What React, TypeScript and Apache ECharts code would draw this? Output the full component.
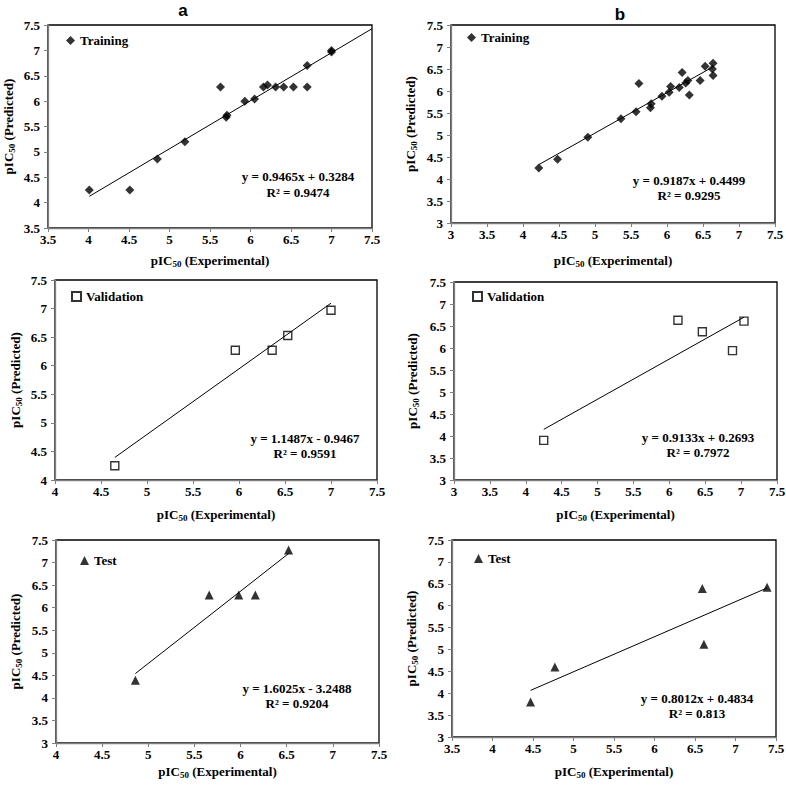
import React, { useEffect, useRef } from "react";
import * as echarts from "echarts";

// ---------- data ----------
const trainAX = [4.01, 4.51, 4.85, 5.19, 5.63, 5.70, 5.71, 5.93, 6.05, 6.16, 6.21, 6.31, 6.41, 6.53, 6.70, 6.70, 7.00, 7.00];
const trainAY = [4.25, 4.25, 4.86, 5.20, 6.28, 5.68, 5.72, 6.00, 6.04, 6.28, 6.32, 6.28, 6.28, 6.28, 6.28, 6.70, 6.97, 7.00];
const trainBX = [4.22, 4.48, 4.90, 5.36, 5.57, 5.61, 5.77, 5.78, 5.93, 6.03, 6.05, 6.17, 6.21, 6.26, 6.29, 6.31, 6.46, 6.53, 6.63, 6.64, 6.64];
const trainBY = [4.25, 4.45, 4.95, 5.37, 5.53, 6.17, 5.62, 5.71, 5.88, 5.97, 6.10, 6.08, 6.42, 6.18, 6.24, 5.91, 6.24, 6.56, 6.50, 6.63, 6.35];
const validAX = [4.65, 5.96, 6.36, 6.53, 7.00];
const validAY = [4.25, 6.27, 6.27, 6.53, 6.97];
const validBX = [4.25, 6.12, 6.46, 6.88, 7.04];
const validBY = [3.90, 6.63, 6.37, 5.94, 6.61];
const testAX = [4.86, 5.66, 5.98, 6.16, 6.52];
const testAY = [4.39, 6.28, 6.28, 6.28, 7.28];
const testBX = [4.47, 4.77, 6.59, 6.61, 7.39];
const testBY = [3.80, 4.60, 6.39, 5.12, 6.42];

// regression coefficients [slope, intercept] and R²
const slopes = [0.9465, 0.9187, 1.1487, 0.9133, 1.6025, 0.8012];
const intercepts = [0.3284, 0.4499, -0.9467, 0.2693, -3.2488, 0.4834];
const equations = [
  "y = 0.9465x + 0.3284",
  "y = 0.9187x + 0.4499",
  "y = 1.1487x - 0.9467",
  "y = 0.9133x + 0.2693",
  "y = 1.6025x - 3.2488",
  "y = 0.8012x + 0.4834",
];
const r2Labels = ["R² = 0.9474", "R² = 0.9295", "R² = 0.9591", "R² = 0.7972", "R² = 0.9204", "R² = 0.813"];
// trendline forward extension (panel a training extends to 7.5)
const trendEnds = [7.5, null, null, null, null, null];

const seriesNames = ["Training", "Training", "Validation", "Validation", "Test", "Test"];
const xMins = [3.5, 3, 4, 3, 4, 3.5];
const yMins = [3.5, 3, 4, 3, 3, 3];
const axisMax = 7.5;
const tickStep = 0.5;
const panelTitles = ["a", "b"];

// ---------- layout ----------
const FONT = '"Liberation Serif", "Times New Roman", serif';
const FS = 13;
const grids = [
  { left: 48, top: 25, width: 324, height: 203 },
  { left: 451, top: 25, width: 324, height: 198 },
  { left: 55, top: 280, width: 322, height: 200 },
  { left: 454, top: 282, width: 323, height: 198 },
  { left: 56, top: 540, width: 323, height: 203 },
  { left: 452, top: 540, width: 324, height: 197 },
];
const xNameGaps = [25, 30, 27, 27, 21, 27];
const yNameGaps = [32, 33, 32, 34, 33, 33];
const legendPos = [
  { left: 66, top: 34 },
  { left: 467, top: 31 },
  { left: 71, top: 290 },
  { left: 472, top: 290 },
  { left: 80, top: 554 },
  { left: 474, top: 552 },
];
const eqPos = [
  [298, 176, 192],
  [689, 180, 195],
  [305, 438, 453],
  [698, 437, 452],
  [297, 688, 703],
  [697, 698, 713],
];

const xs = [trainAX, trainBX, validAX, validBX, testAX, testBX];
const ys = [trainAY, trainBY, validAY, validBY, testAY, testBY];

const nameRich = {
  m: { fontSize: FS, fontWeight: "bold", fontFamily: FONT, color: "#000", lineHeight: 15 },
  s: { fontSize: 9, fontWeight: "bold", fontFamily: FONT, color: "#000", lineHeight: 9, verticalAlign: "bottom" },
};

function symbolFor(i: number) {
  if (i < 2) return { symbol: "diamond", symbolSize: 9, itemStyle: { color: "#000" } };
  if (i < 4)
    return {
      symbol: "rect",
      symbolSize: 8,
      itemStyle: { color: "rgba(255,255,255,0)", borderColor: "#000", borderWidth: 1.4 },
    };
  return { symbol: "triangle", symbolSize: 9, itemStyle: { color: "#000" } };
}

function textStyle(text: string, x: number, y: number) {
  return {
    type: "text",
    x,
    y,
    style: {
      text,
      fill: "#000",
      fontFamily: FONT,
      fontWeight: "bold",
      fontSize: FS,
      align: "center",
      verticalAlign: "middle",
    },
  };
}

function buildOption() {
  const xAxis: any[] = [];
  const yAxis: any[] = [];
  const series: any[] = [];
  const legend: any[] = [];
  const graphic: any[] = [];

  grids.forEach((g, i) => {
    const common = {
      gridIndex: i,
      type: "value",
      max: axisMax,
      interval: tickStep,
      splitLine: { show: false },
      axisLine: { show: true, onZero: false, lineStyle: { color: "#7f7f7f", width: 1.3 } },
      axisTick: { show: true, inside: false, length: 4, lineStyle: { color: "#7f7f7f", width: 1 } },
      nameLocation: "middle",
      nameMoveOverlap: false,
    };
    const labelStyle = {
      color: "#000",
      fontFamily: FONT,
      fontWeight: "bold",
      fontSize: FS,
      showMinLabel: true,
      showMaxLabel: true,
    };
    xAxis.push({
      ...common,
      min: xMins[i],
      name: "{m|pIC}{s|50}{m| (Experimental)}",
      nameGap: xNameGaps[i],
      nameTextStyle: { rich: nameRich },
      axisLabel: { ...labelStyle, margin: 5 },
    });
    yAxis.push({
      ...common,
      min: yMins[i],
      name: "{m|pIC}{s|50}{m| (Predicted)}",
      nameRotate: 90,
      nameGap: yNameGaps[i],
      nameTextStyle: { rich: nameRich },
      axisLabel: { ...labelStyle, margin: 8 },
    });

    const pts = xs[i].map((x, k) => [x, ys[i][k]]);
    series.push({
      name: seriesNames[i],
      type: "scatter",
      xAxisIndex: i,
      yAxisIndex: i,
      data: pts,
      z: 3,
      ...symbolFor(i),
    });

    const x0 = Math.min(...xs[i]);
    const x1 = trendEnds[i] ?? Math.max(...xs[i]);
    series.push({
      name: "Linear (" + seriesNames[i] + ")",
      type: "line",
      xAxisIndex: i,
      yAxisIndex: i,
      data: [
        [x0, slopes[i] * x0 + intercepts[i]],
        [x1, slopes[i] * x1 + intercepts[i]],
      ],
      symbol: "none",
      silent: true,
      z: 4,
      lineStyle: { color: "#000", width: 1 },
    });

    legend.push({
      data: [seriesNames[i]],
      left: legendPos[i].left,
      top: legendPos[i].top,
      padding: 0,
      itemWidth: 9,
      itemHeight: 9,
      selectedMode: false,
      textStyle: { color: "#000", fontFamily: FONT, fontWeight: "bold", fontSize: FS },
    });

    graphic.push(textStyle(equations[i], eqPos[i][0], eqPos[i][1]));
    graphic.push(textStyle(r2Labels[i], eqPos[i][0], eqPos[i][2]));
  });

  const titleFont = '"Liberation Sans", Arial, sans-serif';
  graphic.push({
    type: "text",
    x: 183,
    y: 10,
    style: { text: panelTitles[0], fill: "#000", fontFamily: titleFont, fontWeight: "bold", fontSize: 17, align: "center", verticalAlign: "middle" },
  });
  graphic.push({
    type: "text",
    x: 620,
    y: 14,
    style: { text: panelTitles[1], fill: "#000", fontFamily: titleFont, fontWeight: "bold", fontSize: 17, align: "center", verticalAlign: "middle" },
  });

  return {
    animation: false,
    backgroundColor: "#fff",
    grid: grids.map((g) => ({
      ...g,
      show: true,
      borderColor: "#000",
      borderWidth: 1.3,
      backgroundColor: "transparent",
      containLabel: false,
      outerBoundsMode: "none",
    })),
    xAxis,
    yAxis,
    series,
    legend,
    graphic,
  };
}

export default function App() {
  const ref = useRef<HTMLDivElement>(null);
  useEffect(() => {
    if (!ref.current) return;
    const chart = echarts.init(ref.current, undefined, { renderer: "svg" });
    chart.setOption(buildOption() as any);
    return () => chart.dispose();
  }, []);
  return (
    <div
      ref={ref}
      style={{ position: "fixed", left: 0, top: 0, width: 786, height: 786, background: "#fff" }}
    />
  );
}
